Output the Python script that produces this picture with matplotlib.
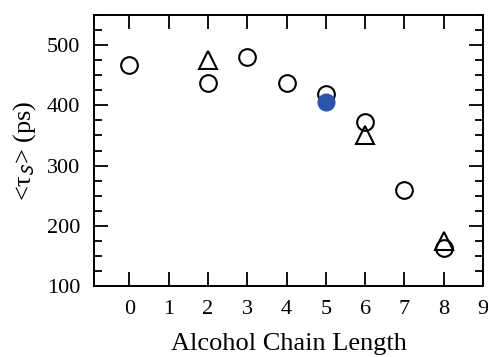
import matplotlib
matplotlib.use('Agg')
import matplotlib.pyplot as plt
from matplotlib.ticker import MultipleLocator

plt.rcParams['font.family'] = ['Liberation Serif', 'DejaVu Serif']
plt.rcParams['mathtext.fontset'] = 'stix'

# data
circle_x = [0, 2, 3, 4, 5, 6, 7, 8]
circle_y = [467, 437, 480, 437, 419, 372, 260, 163]
tri_x = [2, 6, 8]
tri_y = [475, 351, 174]
filled_x = [5]
filled_y = [405]

fig = plt.figure(figsize=(4.89, 3.57), dpi=100)
ax = fig.add_axes([94/489, 1-286/357, (483-94)/489, (286-15)/357])

ax.plot(circle_x, circle_y, 'o', ms=12, mfc='none', mec='black', mew=1.5)
ax.plot(tri_x, tri_y, '^', ms=13, mfc='none', mec='black', mew=1.5)
ax.plot(filled_x, filled_y, 'o', ms=12, color='#2b55a8', mec='#2b55a8')

ax.set_xlim(-0.9, 9)
ax.set_ylim(100, 550)
ax.xaxis.set_major_locator(MultipleLocator(1))
ax.yaxis.set_major_locator(MultipleLocator(100))
ax.yaxis.set_minor_locator(MultipleLocator(25))
ax.tick_params(which='both', direction='in', top=True, right=True, width=1.3, labelsize=16)
ax.tick_params(which='major', length=10, pad=10)
ax.tick_params(which='minor', length=6)
for s in ax.spines.values():
    s.set_linewidth(1.4)

ax.set_xlabel('Alcohol Chain Length', fontsize=19, labelpad=10)
ax.set_ylabel(r'<τ$_{\mathsf{S}}$> (ps)', fontsize=19, labelpad=6)

fig.savefig('out.png', dpi=100)
